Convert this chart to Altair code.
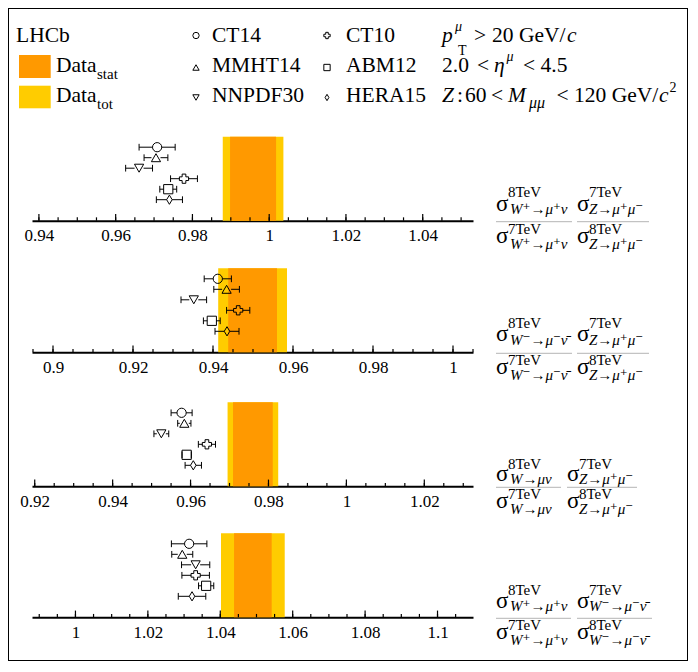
import math
import numpy as np
import pandas as pd
import altair as alt

FONT = "'Liberation Serif', 'Times New Roman', Times, 'DejaVu Serif', serif"

# ------------------------------------------------------------------ data
pdf_names = ["CT14", "MMHT14", "NNPDF30", "CT10", "ABM12", "HERA15"]

r1_pred = [0.9708, 0.9705, 0.9661, 0.9778, 0.9737, 0.9740]
r1_err = [0.0047, 0.0031, 0.0035, 0.0035, 0.0022, 0.0034]
r2_pred = [0.9412, 0.9434, 0.9352, 0.9463, 0.9397, 0.9435]
r2_err = [0.0034, 0.0032, 0.0032, 0.0029, 0.0021, 0.0030]
r3_pred = [0.9577, 0.9584, 0.9525, 0.9642, 0.9590, 0.9607]
r3_err = [0.0027, 0.0017, 0.0019, 0.0022, 0.0012, 0.0021]
r4_pred = [1.0314, 1.0295, 1.0332, 1.0332, 1.0361, 1.0322]
r4_err = [0.0049, 0.0029, 0.0039, 0.0038, 0.0021, 0.0038]

data_central = [0.9958, 0.9499, 0.9760, 1.0490]
data_stat = [0.0060, 0.0061, 0.0051, 0.0052]
data_tot = [0.0079, 0.0086, 0.0065, 0.0088]

axis_min = [0.9382, 0.89475, 0.9193, 0.9880]
axis_max = [1.0531, 1.0050, 1.0325, 1.1098]
tick_labels = [
    [0.94, 0.96, 0.98, 1.00, 1.02, 1.04],
    [0.90, 0.92, 0.94, 0.96, 0.98, 1.00],
    [0.92, 0.94, 0.96, 0.98, 1.00, 1.02],
    [1.00, 1.02, 1.04, 1.06, 1.08, 1.10],
]

sub_first = ["W⁺→μ⁺ν", "W⁻→μ⁻ν̄", "W→μν", "W⁺→μ⁺ν"]
sub_second = ["Z→μ⁺μ⁻", "Z→μ⁺μ⁻", "Z→μ⁺μ⁻", "W⁻→μ⁻ν̄"]

# ------------------------------------------------------------------ layout
W, H = 680, 653
ORIGIN = 9
X0, X1 = 33 - ORIGIN, 474 - ORIGIN
axis_page_y = [221.7, 353.3, 487.3, 618.3]
BAND_UNITS = 8
PX_PER_UNIT = 10.5
slots = [7, 6, 5, 4, 3, 2]
DIAMOND = "M0,-1L0.6,0L0,1L-0.6,0Z"
pdf_shapes = ["circle", "triangle-up", "triangle-down", "cross", "square", DIAMOND]
marker_gap_px = [4.5, 4.5, 4.5, 4.5, 4.5, 2.7]
C_STAT = "#ff9900"
C_TOT = "#ffcc00"

one = pd.DataFrame({"a": [0]})


def text(s, x, y, size=21.5, italic=False):
    return alt.Chart(one).mark_text(
        text=s, align="left", baseline="alphabetic", font=FONT, fontSize=size,
        fontStyle="italic" if italic else "normal", color="black"
    ).encode(x=alt.value(x - ORIGIN), y=alt.value(y - ORIGIN))


def hline(x1, x2, y, color, width=1):
    return alt.Chart(one).mark_rule(color=color, strokeWidth=width).encode(
        x=alt.value(x1 - ORIGIN), x2=alt.value(x2 - ORIGIN), y=alt.value(y - ORIGIN))


def box(x1, x2, y1, y2, color):
    return alt.Chart(one).mark_rect(color=color).encode(
        x=alt.value(x1 - ORIGIN), x2=alt.value(x2 - ORIGIN),
        y=alt.value(y1 - ORIGIN), y2=alt.value(y2 - ORIGIN))


def marker(shape, x, y, size=40):
    return alt.Chart(one).mark_point(
        shape=shape, size=size, filled=False, color="black", strokeWidth=1, opacity=1
    ).encode(x=alt.value(x - ORIGIN), y=alt.value(y - ORIGIN))


def minor_ticks(lo, hi, step=0.005):
    k0 = math.ceil(lo / step - 1e-9)
    k1 = math.floor(hi / step + 1e-9)
    return [round(k * step, 4) for k in range(k0, k1 + 1)]


def panel(i, pred, err):
    """Flat list of layers; every layer carries identical (independent) scales."""
    Lv = axis_page_y[i] - ORIGIN

    def xs():
        return alt.Scale(domain=[axis_min[i], axis_max[i]], range=[X0, X1],
                         nice=False, zero=False)

    def ys():
        return alt.Scale(domain=[0, BAND_UNITS],
                         range=[Lv, Lv - BAND_UNITS * PX_PER_UNIT], nice=False, zero=False)

    ax = alt.Axis(orient="bottom", offset=Lv - H, values=tick_labels[i], format="~g",
                  ticks=False, tickSize=0, grid=False, domain=True, domainColor="black",
                  domainWidth=2, labelFont=FONT, labelFontSize=17, labelColor="black",
                  labelPadding=7, labelFlush=False, labelOverlap=False, title=None)

    def X(f, axis=None):
        return alt.X(f, type="quantitative", scale=xs(), axis=axis)

    def Y(f):
        return alt.Y(f, type="quantitative", scale=ys(), axis=None)

    upp = (axis_max[i] - axis_min[i]) / (X1 - X0)
    df = pd.DataFrame({"pdf": pdf_names, "v": pred, "e": err, "slot": slots,
                       "gap": marker_gap_px})
    df["lo"] = df.v - df.e
    df["hi"] = df.v + df.e
    df["lo_in"] = np.maximum(df.lo, df.v - df.gap * upp)
    df["hi_in"] = np.minimum(df.hi, df.v + df.gap * upp)
    df["c0"] = df.slot - 0.32
    df["c1"] = df.slot + 0.32

    c = data_central[i]
    tot = pd.DataFrame({"lo": [c - data_tot[i]], "hi": [c + data_tot[i]],
                        "b0": [0], "b1": [BAND_UNITS]})
    stat = pd.DataFrame({"lo": [c - data_stat[i]], "hi": [c + data_stat[i]],
                         "b0": [0], "b1": [BAND_UNITS]})

    majors = tick_labels[i]
    minors = minor_ticks(axis_min[i], axis_max[i])
    tk = pd.DataFrame({"t": majors + minors,
                       "b0": [0.0] * (len(majors) + len(minors)),
                       "h": [0.64] * len(majors) + [0.32] * len(minors)})

    band_tot = alt.Chart(tot).mark_rect(color=C_TOT).encode(
        x=X("lo"), x2=alt.X2("hi"), y=Y("b0"), y2=alt.Y2("b1"))
    band_stat = alt.Chart(stat).mark_rect(color=C_STAT).encode(
        x=X("lo"), x2=alt.X2("hi"), y=Y("b0"), y2=alt.Y2("b1"))
    ticks = alt.Chart(tk).mark_rule(color="black", strokeWidth=1.2).encode(
        x=X("t", axis=ax), y=Y("b0"), y2=alt.Y2("h"))
    base = alt.Chart(df)
    seg_l = base.mark_rule(color="black", strokeWidth=1).encode(
        x=X("lo"), x2=alt.X2("lo_in"), y=Y("slot"))
    seg_r = base.mark_rule(color="black", strokeWidth=1).encode(
        x=X("hi_in"), x2=alt.X2("hi"), y=Y("slot"))
    cap_l = base.mark_rule(color="black", strokeWidth=1).encode(
        x=X("lo"), y=Y("c0"), y2=alt.Y2("c1"))
    cap_r = base.mark_rule(color="black", strokeWidth=1).encode(
        x=X("hi"), y=Y("c0"), y2=alt.Y2("c1"))
    pts = base.mark_point(filled=False, color="black", strokeWidth=1, opacity=1, size=85).encode(
        x=X("v"), y=Y("slot"),
        shape=alt.Shape("pdf:N", scale=alt.Scale(domain=pdf_names, range=pdf_shapes),
                        legend=None))
    return [band_tot, band_stat, ticks, seg_l, seg_r, cap_l, cap_r, pts]


# ------------------------------------------------------------------ header
header = [
    text("LHCb", 17, 43.3),
    box(20, 51.7, 56, 79, C_STAT),
    box(20, 51.7, 86.7, 109.3, C_TOT),
    text("Data", 57, 73.3), text("stat", 98, 79.5, size=15),
    text("Data", 57, 103.3), text("tot", 98, 110, size=15),
]
row_base = [43.3, 73.3, 103.3]
row_mark = [36.5, 68.5, 98.5]
for k in range(3):
    header.append(marker(pdf_shapes[k], 197, row_mark[k]))
    header.append(text(pdf_names[k], 213, row_base[k]))
    header.append(marker(pdf_shapes[k + 3], 328, row_mark[k]))
    header.append(text(pdf_names[k + 3], 347, row_base[k]))

header += [
    # p_T^mu > 20 GeV/c
    text("p", 443, 43.3, italic=True), text("μ", 456, 32, size=14, italic=True),
    text("T", 459, 56, size=14), text(">", 475, 43.3),
    text("20 GeV/", 493, 43.3), text("c", 568, 43.3, italic=True),
    # 2.0 < eta^mu < 4.5
    text("2.0", 443, 73.3), text("<", 478, 73.3), text("η", 495, 73.3, italic=True),
    text("μ", 507.5, 62, size=14, italic=True), text("< 4.5", 524, 73.3),
    # Z: 60 < M_mumu < 120 GeV/c^2
    text("Z", 443, 103.3, italic=True), text(":", 458, 103.3), text("60", 466, 103.3),
    text("<", 492, 103.3),
    text("M", 509, 103.3, italic=True), text("μμ", 530, 108.5, size=16, italic=True),
    text("< 120 GeV/", 557.5, 103.3), text("c", 660, 103.3, italic=True),
    text("2", 670.5, 93, size=14),
]

# ------------------------------------------------------------------ right labels
labels = []
second_x = [578, 578, 568, 578]
line1_end = [573, 573, 562, 572]
line2_end = [650, 650, 638, 653]
num_off = [(-25, -11, -8), (-25, -12, -8), (-18, -6, -3), (-23, -10, -7)]
den_off = (12, 21, 27)
for i in range(4):
    Lf = axis_page_y[i] + 1
    s2 = second_x[i]
    labels.append(hline(497, line1_end[i], Lf, "#b4b4b4"))
    labels.append(hline(s2, line2_end[i], Lf, "#b4b4b4"))
    for (sup_o, sig_o, sub_o), sa, sb in [(num_off[i], "8TeV", "7TeV"), (den_off, "7TeV", "8TeV")]:
        labels += [
            text("σ", 497, Lf + sig_o, size=23),
            text(sa, 509, Lf + sup_o, size=15),
            text(sub_first[i], 511, Lf + sub_o, size=15, italic=True),
            text("σ", s2, Lf + sig_o, size=23),
            text(sb, s2 + 12, Lf + sup_o, size=15),
            text(sub_second[i], s2 + 12, Lf + sub_o, size=15, italic=True),
        ]

panel_layers = (panel(0, r1_pred, r1_err) + panel(1, r2_pred, r2_err)
                + panel(2, r3_pred, r3_err) + panel(3, r4_pred, r4_err))

chart = alt.layer(*header, *labels, *panel_layers).resolve_scale(
    x="independent", y="independent"
).properties(width=W, height=H, padding=0).configure_view(stroke="black", strokeWidth=2)

chart.save("out.html", embed_options={"renderer": "svg", "actions": False})
